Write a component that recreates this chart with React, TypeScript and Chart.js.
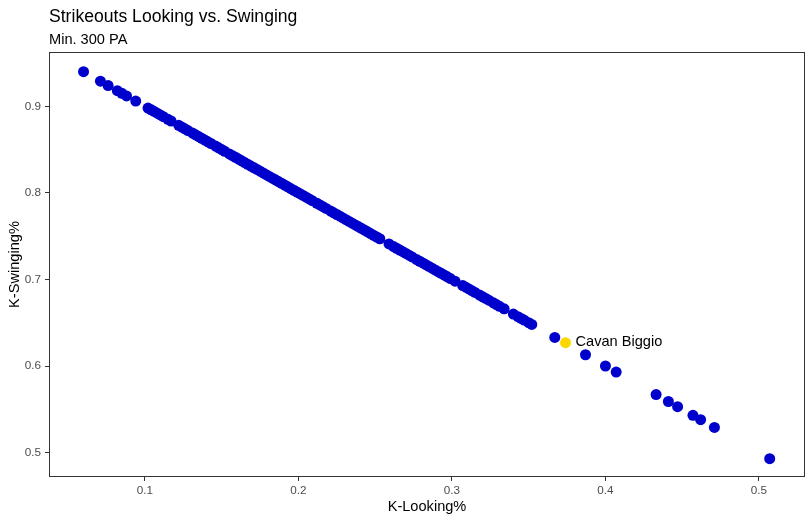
import { useEffect, useRef } from "react"
import { Chart, registerables } from "chart.js"

Chart.register(...registerables)

// K-Looking% (x) and K-Swinging% (y) per hitter, min. 300 PA
const kLooking = [
  0.06, 0.071, 0.076, 0.082, 0.085, 0.088, 0.094, 0.102, 0.104, 0.106, 0.108, 0.11, 0.112, 0.115, 0.117,
  0.122, 0.124, 0.126, 0.128, 0.131, 0.133, 0.135, 0.137,
  0.139, 0.141, 0.143, 0.146, 0.148, 0.15, 0.152, 0.155,
  0.157, 0.159, 0.161, 0.163, 0.165, 0.167, 0.169, 0.171,
  0.173, 0.175, 0.177, 0.179, 0.181, 0.183, 0.185, 0.187,
  0.189, 0.191, 0.193, 0.195, 0.197, 0.199, 0.201, 0.203,
  0.205, 0.207, 0.209, 0.212, 0.214, 0.216, 0.218, 0.221,
  0.223, 0.225, 0.227, 0.229, 0.231, 0.233, 0.235, 0.237,
  0.239, 0.241, 0.243, 0.245, 0.247, 0.249, 0.251, 0.253,
  0.259, 0.262, 0.264, 0.266, 0.268, 0.27, 0.272, 0.274,
  0.277, 0.279, 0.281, 0.283, 0.285, 0.287, 0.289, 0.291,
  0.293, 0.295, 0.297, 0.299, 0.302, 0.307, 0.309, 0.311,
  0.313, 0.315, 0.318, 0.32, 0.322, 0.324, 0.327, 0.329,
  0.331, 0.334, 0.34, 0.343, 0.345, 0.347, 0.35, 0.352,
  0.367, 0.387, 0.4, 0.407, 0.433, 0.441, 0.447, 0.457, 0.462, 0.471, 0.507,
]
const kSwinging = [
  0.94, 0.929, 0.924, 0.918, 0.915, 0.912, 0.906, 0.898, 0.896, 0.894, 0.892, 0.89, 0.888, 0.885, 0.883,
  0.878, 0.876, 0.874, 0.872, 0.869, 0.867, 0.865, 0.863,
  0.861, 0.859, 0.857, 0.854, 0.852, 0.85, 0.848, 0.845,
  0.843, 0.841, 0.839, 0.837, 0.835, 0.833, 0.831, 0.829,
  0.827, 0.825, 0.823, 0.821, 0.819, 0.817, 0.815, 0.813,
  0.811, 0.809, 0.807, 0.805, 0.803, 0.801, 0.799, 0.797,
  0.795, 0.793, 0.791, 0.788, 0.786, 0.784, 0.782, 0.779,
  0.777, 0.775, 0.773, 0.771, 0.769, 0.767, 0.765, 0.763,
  0.761, 0.759, 0.757, 0.755, 0.753, 0.751, 0.749, 0.747,
  0.741, 0.738, 0.736, 0.734, 0.732, 0.73, 0.728, 0.726,
  0.723, 0.721, 0.719, 0.717, 0.715, 0.713, 0.711, 0.709,
  0.707, 0.705, 0.703, 0.701, 0.698, 0.693, 0.691, 0.689,
  0.687, 0.685, 0.682, 0.68, 0.678, 0.676, 0.673, 0.671,
  0.669, 0.666, 0.66, 0.657, 0.655, 0.653, 0.65, 0.648,
  0.633, 0.613, 0.6, 0.593, 0.567, 0.559, 0.553, 0.543, 0.538, 0.529, 0.493,
]

const highlightName = "Cavan Biggio"
const highlightX = 0.374
const highlightY = 0.627

const xTicks = [0.1, 0.2, 0.3, 0.4, 0.5]
const yTicks = [0.5, 0.6, 0.7, 0.8, 0.9]

const FONT = "'Liberation Sans', Arial, sans-serif"

const decorPlugin = {
  id: "decor",
  afterDatasetsDraw(chart: any) {
    const { ctx, chartArea, scales } = chart
    ctx.save()
    // label for highlighted player
    const px = scales.x.getPixelForValue(highlightX)
    const py = scales.y.getPixelForValue(highlightY)
    ctx.fillStyle = "#000000"
    ctx.font = `14.6px ${FONT}`
    ctx.textAlign = "left"
    ctx.textBaseline = "alphabetic"
    ctx.fillText(highlightName, px + 10, py + 3)
    ctx.restore()
  },
  afterDraw(chart: any) {
    const { ctx, chartArea } = chart
    ctx.save()
    // panel border
    ctx.strokeStyle = "#333333"
    ctx.lineWidth = 1
    ctx.strokeRect(
      Math.round(chartArea.left) + 0.5,
      Math.round(chartArea.top) + 0.5,
      Math.round(chartArea.right - chartArea.left) - 1,
      Math.round(chartArea.bottom - chartArea.top) - 1
    )
    // titles
    ctx.fillStyle = "#000000"
    ctx.textAlign = "left"
    ctx.textBaseline = "alphabetic"
    ctx.font = `17.6px ${FONT}`
    ctx.fillText("Strikeouts Looking vs. Swinging", chartArea.left, 22)
    ctx.font = `14.6px ${FONT}`
    ctx.fillText("Min. 300 PA", chartArea.left, 44)
    ctx.restore()
  },
}

export default function App() {
  const canvasRef = useRef<HTMLCanvasElement>(null)
  const chartRef = useRef<Chart | null>(null)

  useEffect(() => {
    if (!canvasRef.current) return
    if (chartRef.current) chartRef.current.destroy()

    const points = kLooking.map((x, i) => ({ x, y: kSwinging[i] }))

    chartRef.current = new Chart(canvasRef.current, {
      type: "scatter",
      data: {
        datasets: [
          {
            label: highlightName,
            data: [{ x: highlightX, y: highlightY }],
            backgroundColor: "#FFD700",
            borderWidth: 0,
            pointRadius: 5.5,
            pointHoverRadius: 5.5,
          },
          {
            label: "Hitters",
            data: points,
            backgroundColor: "#0000CD",
            borderWidth: 0,
            pointRadius: 5.5,
            pointHoverRadius: 5.5,
          },
        ],
      },
      options: {
        animation: false,
        responsive: true,
        maintainAspectRatio: false,
        events: [],
        layout: { padding: { top: 52, right: 7, left: 0, bottom: 0 } },
        plugins: {
          legend: { display: false },
          tooltip: { enabled: false },
          title: { display: false },
        },
        scales: {
          x: {
            type: "linear",
            min: 0.0375,
            max: 0.53,
            afterBuildTicks: (scale: any) => {
              scale.ticks = xTicks.map((v) => ({ value: v }))
            },
            afterFit: (scale: any) => {
              scale.height = 45
            },
            grid: {
              display: true,
              drawOnChartArea: false,
              drawTicks: true,
              tickLength: 4,
              color: "#333333",
            },
            border: { display: false },
            ticks: {
              color: "#4D4D4D",
              font: { family: FONT, size: 11.7 },
              padding: 3,
              maxRotation: 0,
              callback: (v: any) => String(v),
            },
            title: {
              display: true,
              text: "K-Looking%",
              color: "#000000",
              font: { family: FONT, size: 14.6 },
              padding: { top: 0, bottom: 6 },
            },
          },
          y: {
            type: "linear",
            min: 0.4718,
            max: 0.9627,
            afterBuildTicks: (scale: any) => {
              scale.ticks = yTicks.map((v) => ({ value: v }))
            },
            afterFit: (scale: any) => {
              scale.width = 49
            },
            grid: {
              display: true,
              drawOnChartArea: false,
              drawTicks: true,
              tickLength: 4,
              color: "#333333",
            },
            border: { display: false },
            ticks: {
              color: "#4D4D4D",
              font: { family: FONT, size: 11.7 },
              padding: 4,
              callback: (v: any) => String(v),
            },
            title: {
              display: true,
              text: "K-Swinging%",
              color: "#000000",
              font: { family: FONT, size: 14.6 },
              padding: { top: 6, bottom: 0 },
            },
          },
        },
      },
      plugins: [decorPlugin],
    })

    return () => {
      if (chartRef.current) {
        chartRef.current.destroy()
        chartRef.current = null
      }
    }
  }, [])

  return (
    <div
      style={{
        position: "fixed",
        top: 0,
        left: 0,
        width: 812,
        height: 522,
        background: "#ffffff",
      }}
    >
      <canvas ref={canvasRef} />
    </div>
  )
}
